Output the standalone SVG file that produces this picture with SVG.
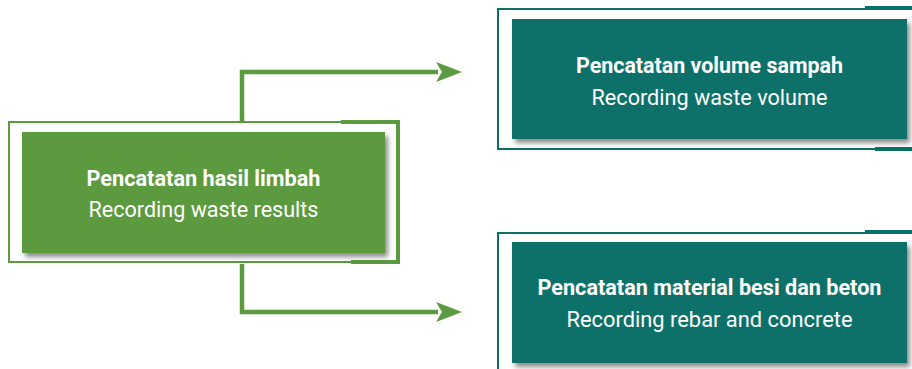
<svg xmlns="http://www.w3.org/2000/svg" width="912" height="369" viewBox="0 0 912 369">
<style>
.g{fill:#5b9a3f}
.t{fill:#0a716a}
.gs{stroke:#5b9a3f;fill:none}
.ts{stroke:#0a716a;fill:none}
.b{font-family:Roboto,"Liberation Sans",sans-serif;font-weight:bold;font-size:22.5px;fill:#fff;text-anchor:middle}
.r{font-family:Roboto,"Liberation Sans",sans-serif;font-size:22.5px;fill:#fff;text-anchor:middle}
</style>
<defs>
<filter id="sh" x="-5%" y="-10%" width="115%" height="130%">
<feDropShadow dx="3" dy="4" stdDeviation="2.5" flood-color="#000" flood-opacity="0.45"/>
</filter>
<marker id="ah" viewBox="0 0 26 20" refX="2" refY="10" markerWidth="26" markerHeight="20" markerUnits="userSpaceOnUse" orient="auto">
<path d="M0,0 L26,10 L0,20 L6,10 Z" fill="#5b9a3f"/>
</marker>
</defs>
<g id="connectors">
<path class="gs" stroke-width="4.5" d="M242,121 V72 H438" marker-end="url(#ah)"/>
<path class="gs" stroke-width="4.5" d="M242,264 V312 H438" marker-end="url(#ah)"/>
</g>
<g id="node-left">
<path class="gs" stroke-width="2" d="M342,122 H9 V262 H352"/>
<path class="gs" stroke-width="4" d="M341,122 H398 V262 H351"/>
<rect class="g" x="22" y="132" width="363" height="121" filter="url(#sh)"/>
<text class="b" x="203.5" y="186" textLength="234" lengthAdjust="spacingAndGlyphs">Pencatatan hasil limbah</text>
<text class="r" x="203.5" y="217" textLength="230" lengthAdjust="spacingAndGlyphs">Recording waste results</text>
</g>
<g id="node-top-right">
<path class="ts" stroke-width="2" d="M866,9 H498 V149 H876"/>
<path class="ts" stroke-width="4" d="M865,8 H912 M875,149 H912"/>
<rect class="t" x="512" y="19" width="395" height="120" filter="url(#sh)"/>
<text class="b" x="709.5" y="73" textLength="267" lengthAdjust="spacingAndGlyphs">Pencatatan volume sampah</text>
<text class="r" x="709.5" y="105" textLength="236" lengthAdjust="spacingAndGlyphs">Recording waste volume</text>
</g>
<g id="node-bottom-right">
<path class="ts" stroke-width="2" d="M866,233 H498 V369"/>
<path class="ts" stroke-width="4" d="M865,232 H912"/>
<rect class="t" x="512" y="242" width="395" height="121" filter="url(#sh)"/>
<text class="b" x="709.5" y="295" textLength="344" lengthAdjust="spacingAndGlyphs">Pencatatan material besi dan beton</text>
<text class="r" x="709.5" y="327" textLength="286" lengthAdjust="spacingAndGlyphs">Recording rebar and concrete</text>
</g>
</svg>
